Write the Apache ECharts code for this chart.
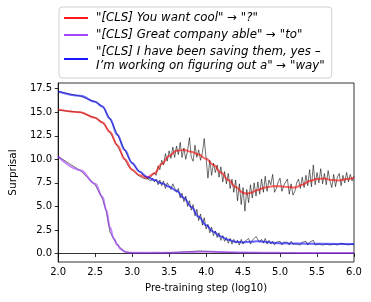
<!DOCTYPE html>
<html>
<head>
<meta charset="utf-8">
<script src="https://cdn.jsdelivr.net/npm/echarts@6/dist/echarts.min.js"></script>
<style>
html,body{margin:0;padding:0;background:#fff;}
#chart{width:371px;height:302px;}
</style>
</head>
<body>
<div id="chart"></div>
<script>
// ---- data ----
const seriesNames = [
  '"[CLS] You want cool" \u2192 "?"',
  '"[CLS] Great company able" \u2192 "to"',
  '"[CLS] I have been saving them, yes \u2013\nI\u2019m working on figuring out a" \u2192 "way"'
];
const yTicks = [0, 2.5, 5, 7.5, 10, 12.5, 15, 17.5];

// raw checkpoint positions (log10 step)
const rawX = [
  2.0, 2.3, 2.5, 2.6, 2.65, 2.7, 2.78, 2.85, 2.9, 2.95, 3.0, 3.05, 3.1, 3.15,
  3.2, 3.225, 3.25, 3.275, 3.3, 3.325, 3.35, 3.375,
  3.4, 3.425, 3.45, 3.475, 3.5, 3.525, 3.55, 3.575,
  3.6, 3.625, 3.65, 3.675, 3.7, 3.725, 3.75, 3.775,
  3.8, 3.825, 3.85, 3.875, 3.9, 3.925, 3.95, 3.975,
  4.0, 4.025, 4.05, 4.075, 4.1, 4.125, 4.15, 4.175,
  4.2, 4.225, 4.25, 4.275, 4.3, 4.325, 4.35, 4.375,
  4.4, 4.425, 4.45, 4.475, 4.5, 4.525, 4.55, 4.575,
  4.6, 4.625, 4.65, 4.675, 4.7, 4.725, 4.75, 4.775,
  4.8, 4.825, 4.85, 4.875, 4.9, 4.925, 4.95, 4.975,
  5.0, 5.025, 5.05, 5.075, 5.1, 5.125, 5.15, 5.175,
  5.2, 5.225, 5.25, 5.275, 5.3, 5.325, 5.35, 5.375,
  5.4, 5.425, 5.45, 5.475, 5.5, 5.525, 5.55, 5.575,
  5.6, 5.625, 5.65, 5.675, 5.7, 5.725, 5.75, 5.775,
  5.8, 5.825, 5.85, 5.875, 5.9, 5.925, 5.95, 5.975,
  6.0
];
const rawRed = [
  15.2, 15.0, 14.4, 13.9, 13.4, 12.9, 11.7, 10.7, 10.0, 9.3, 8.9, 8.5, 8.2, 8.0,
  7.9, 7.7, 8.1, 7.9, 8.6, 8.3, 9.3, 8.9,
  9.9, 9.4, 10.6, 9.8, 10.9, 10.1, 11.3, 10.2,
  11.4, 10.5, 11.8, 10.2, 11.2, 10.0, 10.9, 12.3,
  10.2, 9.8, 11.5, 10.2, 11.0, 9.9, 10.7, 12.2,
  10.1, 8.0, 9.9, 8.3, 9.6, 8.6, 9.4, 8.1,
  9.2, 7.6, 8.7, 7.4, 8.5, 6.9, 7.9, 6.5,
  7.8, 5.6, 7.4, 5.2, 7.0, 4.5, 6.8, 5.4,
  7.3, 5.9, 7.5, 6.1, 7.6, 6.3, 7.9, 6.5,
  8.2, 6.6, 7.8, 7.3, 8.4, 6.5, 6.9, 7.6,
  8.0, 6.6, 7.2, 7.6, 7.9, 6.3, 7.4, 6.2,
  6.6, 7.5, 7.9, 6.9, 8.1, 7.0, 8.3, 7.2,
  8.9, 7.1, 9.4, 7.3, 8.6, 7.5, 9.0, 7.4,
  8.5, 7.3, 8.8, 7.7, 7.0, 8.4, 7.1, 8.1,
  8.5, 7.2, 8.3, 7.5, 8.6, 7.6, 8.4, 7.7,
  8.2
];
const rawPurple = [
  10.3, 8.8, 7.3, 5.8, 4.5, 2.3, 1.2, 0.5, 0.2, 0.1, 0.07, 0.05, 0.06, 0.05,
  0.05, 0.06, 0.04, 0.05, 0.07, 0.05, 0.06, 0.08,
  0.06, 0.07, 0.09, 0.08, 0.1, 0.09, 0.12, 0.1,
  0.13, 0.11, 0.15, 0.14, 0.17, 0.16, 0.2, 0.18,
  0.22, 0.19, 0.24, 0.21, 0.26, 0.22, 0.25, 0.3,
  0.23, 0.27, 0.2, 0.24, 0.18, 0.21, 0.16, 0.18,
  0.15, 0.14, 0.12, 0.13, 0.11, 0.12, 0.1, 0.11,
  0.09, 0.1, 0.08, 0.1, 0.09, 0.08, 0.09, 0.07,
  0.08, 0.07, 0.09, 0.07, 0.08, 0.06, 0.07, 0.08,
  0.06, 0.07, 0.06, 0.07, 0.05, 0.06, 0.07, 0.06,
  0.05, 0.06, 0.05, 0.06, 0.05, 0.05, 0.06, 0.05,
  0.06, 0.05, 0.05, 0.06, 0.04, 0.05, 0.06, 0.05,
  0.05, 0.06, 0.04, 0.05, 0.06, 0.05, 0.04, 0.05,
  0.06, 0.05, 0.05, 0.04, 0.05, 0.06, 0.05, 0.04,
  0.05, 0.04, 0.05, 0.06, 0.05, 0.04, 0.05, 0.05,
  0.05
];
const rawBlue = [
  17.2, 16.7, 16.1, 15.6, 15.0, 14.3, 13.0, 11.8, 11.0, 10.2, 9.6, 9.1, 8.7, 8.35,
  8.0, 7.8, 7.7, 8.0, 7.6, 7.9, 7.3, 7.8,
  7.2, 7.7, 6.9, 7.5, 7.6, 6.8, 7.4, 7.6,
  6.5, 6.9, 5.9, 6.4, 5.5, 6.1, 5.0, 5.6,
  4.6, 5.2, 4.0, 4.7, 3.5, 4.2, 3.0, 3.8,
  2.6, 3.1, 2.2, 2.8, 1.9, 2.4, 1.7, 2.2,
  1.4, 1.9, 1.3, 1.7, 1.1, 1.6, 1.0, 1.5,
  1.1, 1.4, 0.9, 1.5, 1.0, 1.3, 1.1, 1.6,
  1.0, 1.4, 1.2, 1.8, 2.0, 1.2, 1.5, 1.1,
  1.6, 1.0, 1.4, 1.0, 1.3, 0.9, 1.2, 1.0,
  1.3, 0.9, 1.2, 1.0, 1.2, 0.9, 1.3, 1.0,
  1.2, 1.0, 1.1, 0.9, 1.2, 1.0, 1.3, 0.9,
  1.2, 1.0, 1.4, 0.9, 1.1, 1.0, 1.2, 0.9,
  1.1, 1.0, 1.2, 0.9, 1.1, 1.0, 1.1, 0.9,
  1.0, 1.1, 0.9, 1.0, 1.1, 0.9, 1.0, 1.0,
  0.9
];

// smoothed curves [x, y]
const smoothRed = [[2.0,15.3],[2.3,15.0],[2.5,14.4],[2.6,13.9],[2.7,12.9],[2.8,11.5],[2.9,10.0],[3.0,8.9],[3.1,8.3],[3.2,8.05],[3.3,8.5],[3.4,9.5],[3.5,10.35],[3.6,10.9],[3.7,11.0],[3.8,10.8],[3.9,10.5],[4.0,10.05],[4.1,9.4],[4.2,8.6],[4.3,7.8],[4.4,7.05],[4.5,6.45],[4.55,6.35],[4.6,6.45],[4.7,6.75],[4.8,7.0],[4.9,7.15],[5.0,7.15],[5.1,7.05],[5.2,7.0],[5.3,7.3],[5.4,7.7],[5.5,7.9],[5.6,7.95],[5.7,7.8],[5.8,7.75],[5.9,7.9],[6.0,8.05]];
const smoothPurple = [[2.0,10.3],[2.3,8.85],[2.5,7.4],[2.6,6.0],[2.65,4.6],[2.7,2.8],[2.75,1.6],[2.8,0.9],[2.85,0.45],[2.9,0.2],[2.95,0.1],[3.0,0.07],[3.5,0.08],[3.8,0.15],[4.0,0.2],[4.2,0.15],[4.5,0.1],[5.0,0.07],[6.0,0.05]];
const smoothBlue = [[2.0,17.2],[2.3,16.75],[2.5,16.1],[2.6,15.6],[2.7,14.3],[2.8,12.6],[2.9,11.0],[3.0,9.6],[3.1,8.7],[3.2,8.15],[3.3,7.8],[3.4,7.45],[3.5,7.1],[3.6,6.65],[3.7,5.9],[3.8,4.95],[3.9,3.9],[4.0,3.0],[4.1,2.3],[4.2,1.8],[4.3,1.45],[4.4,1.25],[4.5,1.2],[4.6,1.25],[4.7,1.3],[4.8,1.25],[4.9,1.15],[5.0,1.1],[5.5,1.05],[6.0,1.0]];

const colors = ['#ff0000', '#9b30ff', '#0000ff'];

// ---- chart ----
const zip = (xs, ys) => xs.map((x, i) => [x, ys[i]]);
const FONT = 'DejaVu Sans';

function rawSeries(ys) {
  return {
    type: 'line', data: zip(rawX, ys), symbol: 'none', silent: true,
    lineStyle: { color: '#000', width: 0.75, opacity: 0.75 }, z: 2
  };
}
function smoothSeries(name, data, color) {
  return {
    name: name, type: 'line', data: data, symbol: 'none', smooth: 0.4, smoothMonotone: 'x',
    lineStyle: { color: color, width: 2, opacity: 0.6 }, itemStyle: { color: color }, z: 3
  };
}

const chart = echarts.init(document.getElementById('chart'), null, { renderer: 'canvas' });
chart.setOption({
  animation: false,
  backgroundColor: '#fff',
  grid: { left: 54, right: 17, top: 83, bottom: 40, show: true, borderColor: '#000', borderWidth: 0.8, backgroundColor: 'transparent' },
  legend: {
    orient: 'vertical', left: 59, top: 7,
    backgroundColor: '#fff', borderColor: '#d0d0d0', borderWidth: 1, borderRadius: 3,
    padding: [4, 7, 5, 5], itemGap: 3, itemWidth: 24, itemHeight: 1.8, icon: 'rect',
    textStyle: { fontFamily: FONT, fontStyle: 'italic', fontSize: 11.8, color: '#000', lineHeight: 14, padding: [0, 0, 0, 3] },
    data: seriesNames.map((n, i) => ({ name: n, itemStyle: { color: colors[i], opacity: 1 } }))
  },
  xAxis: {
    type: 'value', min: 2, max: 6, interval: 0.5,
    name: 'Pre-training step (log10)', nameLocation: 'middle', nameGap: 21,
    nameTextStyle: { fontFamily: FONT, fontSize: 10, color: '#000' },
    axisLine: { show: true, lineStyle: { color: '#000', width: 0.8 } },
    axisTick: { show: true, inside: false, length: 3.5, lineStyle: { color: '#000', width: 0.8 } },
    axisLabel: { fontFamily: FONT, fontSize: 10, color: '#000', margin: 5, formatter: v => v.toFixed(1) },
    splitLine: { show: false }
  },
  yAxis: {
    type: 'value', min: -0.9, max: 18.1,
    name: 'Surprisal', nameLocation: 'middle', nameGap: 37,
    nameTextStyle: { fontFamily: FONT, fontSize: 10.5, color: '#000' },
    axisLine: { show: true, lineStyle: { color: '#000', width: 0.8 } },
    axisTick: { show: true, inside: false, length: 3.5, lineStyle: { color: '#000', width: 0.8 }, customValues: yTicks },
    axisLabel: { fontFamily: FONT, fontSize: 10, color: '#000', margin: 6, formatter: v => v.toFixed(1), customValues: yTicks },
    splitLine: { show: false }
  },
  series: [
    rawSeries(rawRed), rawSeries(rawPurple), rawSeries(rawBlue),
    smoothSeries(seriesNames[0], smoothRed, colors[0]),
    smoothSeries(seriesNames[1], smoothPurple, colors[1]),
    smoothSeries(seriesNames[2], smoothBlue, colors[2])
  ]
});
</script>
</body>
</html>
